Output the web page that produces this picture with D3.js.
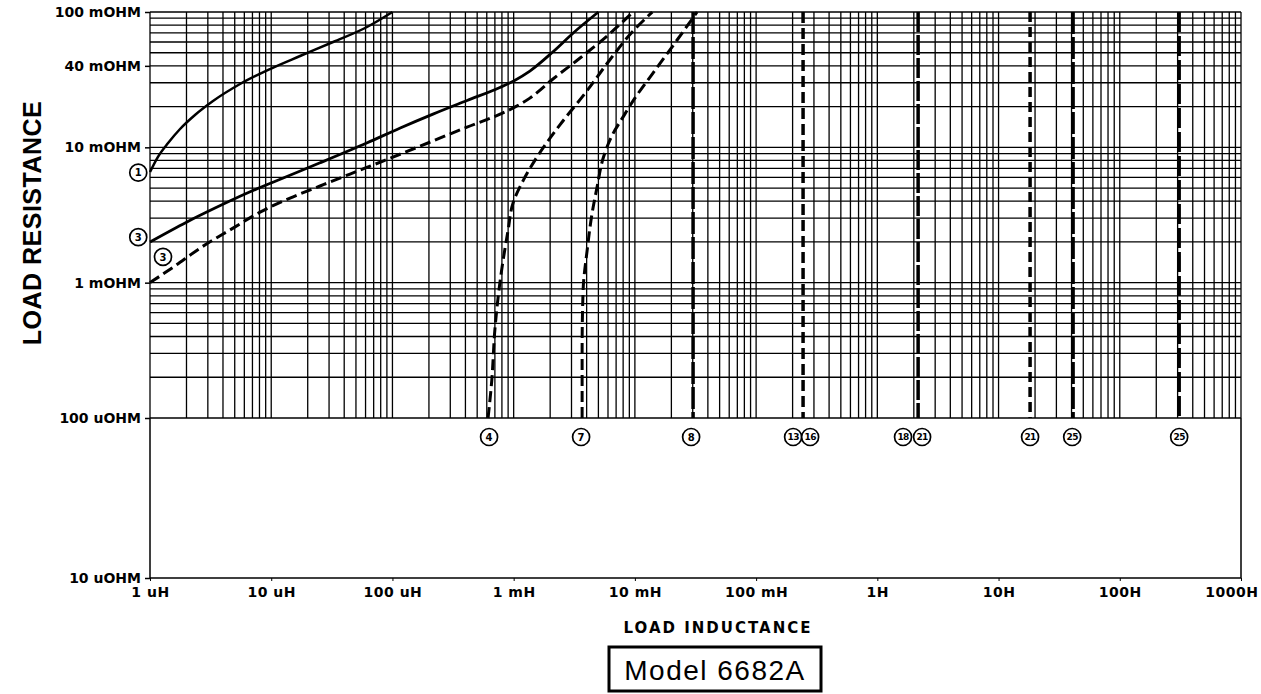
<!DOCTYPE html>
<html>
<head>
<meta charset="utf-8">
<script src="https://cdn.jsdelivr.net/npm/d3@7"></script>
<style>
  body { margin: 0; background: #fff; }
  svg text { fill: #000; }
  .tick-lbl { font-family: "DejaVu Sans", sans-serif; font-weight: bold; font-size: 14px; }
</style>
</head>
<body>
<div id="chart"></div>
<script>
// ---- data (L in henry, R in ohm) ----
const xTickVals = [1e-6, 1e-5, 1e-4, 1e-3, 1e-2, 0.1, 1, 10, 100, 1000];
const xTickText = ["1 uH", "10 uH", "100 uH", "1 mH", "10 mH", "100 mH", "1H", "10H", "100H", "1000H"];
const yTickVals = [0.1, 0.04, 0.01, 0.001, 1e-4, 1e-5];
const yTickText = ["100 mOHM", "40 mOHM", "10 mOHM", "1 mOHM", "100 uOHM", "10 uOHM"];

const curve1 = [[1e-6,6.57e-3],[1.16e-6,8.48e-3],[1.41e-6,0.01076],[1.77e-6,0.01366],[2.35e-6,0.01733],[3.31e-6,0.02198],[5.53e-6,0.02936],[9.78e-6,0.03791],[1.73e-5,0.0473],[3.24e-5,0.060],[6.17e-5,0.07745],[1.0e-4,0.1]];
const curve3 = [[1e-6,2.0e-3],[2.0e-6,2.8e-3],[3.44e-6,3.56e-3],[6.08e-6,4.52e-3],[1.12e-5,5.69e-3],[2.5e-5,7.65e-3],[6.2e-5,0.0108],[1.16e-4,0.0139],[2.16e-4,0.0176],[4.13e-4,0.0222],[7.7e-4,0.0277],[1.01e-3,0.0311],[1.36e-3,0.0366],[2.1e-3,0.0506],[3.1e-3,0.070],[5.0e-3,0.1]];
const curve3d = [[1e-6,1.0e-3],[1.55e-6,1.3e-3],[2.59e-6,1.8e-3],[4.84e-6,2.53e-3],[8.09e-6,3.32e-3],[1.43e-5,4.22e-3],[2.53e-5,5.18e-3],[4.47e-5,6.35e-3],[8.36e-5,7.92e-3],[1.69e-4,0.0102],[4.12e-4,0.0141],[7.73e-4,0.0176],[1.03e-3,0.0199],[1.36e-3,0.0231],[2.11e-3,0.032],[3.53e-3,0.0457],[5.9e-3,0.0665],[9.66e-3,0.1]];
const curve4 = [[6.15e-4,1e-4],[6.6e-4,1.9e-4],[7.0e-4,4.5e-4],[7.7e-4,1.0e-3],[9.0e-4,2.45e-3],[9.9e-4,3.9e-3],[1.2e-3,5.7e-3],[1.56e-3,8.5e-3],[2.4e-3,0.0146],[3.9e-3,0.0252],[6.2e-3,0.0442],[9.5e-3,0.0711],[1.39e-2,0.1]];
const curve7 = [[3.67e-3,1e-4],[3.67e-3,3.2e-4],[3.74e-3,8.8e-4],[4.04e-3,1.74e-3],[4.44e-3,3.27e-3],[4.88e-3,5.1e-3],[5.47e-3,8.3e-3],[6.5e-3,0.0123],[8.0e-3,0.0168],[1.0e-2,0.0231],[1.41e-2,0.0354],[2.23e-2,0.0621],[3.26e-2,0.1]];

// vertical limit lines (inductance only)
const limitL = [0.0302, 0.244, 2.17, 18.2, 41.2, 309];

// circled curve numbers
const tagText = ["4", "7", "8", "13", "16", "18", "21", "21", "25", "25"];
const tagL = [6.27e-4, 3.6e-3, 0.0291, 0.202, 0.279, 1.63, 2.34, 18.2, 40.5, 309];
const sideTagText = ["1", "3", "3"];
const sideTagL = [0.8e-6, 0.8e-6, 1.28e-6];
const sideTagR = [6.5e-3, 2.17e-3, 1.55e-3];

// ---- layout ----
const W = 1261, H = 694;
const m = { left: 150, right: 1241, top: 12, grid: 418, bottom: 578 };

const svg = d3.select("#chart").append("svg").attr("width", W).attr("height", H);

const x = d3.scaleLog().domain([1e-6, 1000]).range([m.left, m.right]);
// bottom decade of the original sheet is drawn a bit taller
const y = d3.scaleLog().domain([1e-5, 1e-4, 0.1]).range([m.bottom, m.grid, m.top]);

// grid values 1..9 per decade
const gridX = [];
for (let e = -6; e <= 2; e++) for (let k = 1; k <= 9; k++) gridX.push(k * Math.pow(10, e));
gridX.push(1000);
const gridY = [];
for (let e = -4; e <= -2; e++) for (let k = 1; k <= 9; k++) gridY.push(k * Math.pow(10, e));
gridY.push(0.1);

const grid = svg.append("g").attr("stroke", "#000").attr("stroke-width", 1.3);
grid.selectAll("line.v").data(gridX).join("line").attr("class", "v")
  .attr("x1", d => x(d)).attr("x2", d => x(d))
  .attr("y1", y(0.1)).attr("y2", y(1e-4));
grid.selectAll("line.h").data(gridY).join("line").attr("class", "h")
  .attr("x1", m.left).attr("x2", m.right)
  .attr("y1", d => y(d)).attr("y2", d => y(d));

// frame of the lower empty part
svg.append("path")
  .attr("d", `M${m.left},${y(1e-4)}V${m.bottom}H${m.right}V${y(1e-4)}`)
  .attr("fill", "none").attr("stroke", "#000").attr("stroke-width", 1.5);

// axes
const xAxis = d3.axisBottom(x).tickValues(xTickVals)
  .tickFormat((d, i) => xTickText[i]).tickSizeInner(3).tickSizeOuter(0).tickPadding(6);
const gx = svg.append("g").attr("transform", `translate(0,${m.bottom})`).call(xAxis);
gx.select(".domain").remove();
gx.selectAll("text").attr("class", "tick-lbl").style("letter-spacing", "0.5px");
// last label would run off the page, pull it in like the original
gx.selectAll(".tick:last-of-type text").attr("text-anchor", "end").attr("dx", 17);

const yAxis = d3.axisLeft(y).tickValues(yTickVals)
  .tickFormat((d, i) => yTickText[i]).tickSizeInner(5).tickSizeOuter(0).tickPadding(4);
const gy = svg.append("g").attr("transform", `translate(${m.left},0)`).call(yAxis);
gy.select(".domain").remove();
gy.selectAll("line").attr("stroke-width", 1.5);
gy.selectAll("text").attr("class", "tick-lbl");

// curves
const lineX = d3.line().x(d => x(d[0])).y(d => y(d[1])).curve(d3.curveMonotoneX);
const lineY = d3.line().x(d => x(d[0])).y(d => y(d[1])).curve(d3.curveMonotoneY);
const drawCurve = (data, gen, dash, w) => svg.append("path").datum(data)
  .attr("fill", "none").attr("stroke", "#000").attr("stroke-width", w)
  .attr("stroke-dasharray", dash).attr("stroke-linecap", "butt").attr("d", gen);

drawCurve(curve1, lineX, null, 2.5);
drawCurve(curve3, lineX, null, 2.8);
drawCurve(curve3d, lineX, "11,5", 3);
drawCurve(curve4, lineY, "11,5", 3);
drawCurve(curve7, lineY, "11,5", 3);

// vertical limit lines
const limitDash = ["22,3", "11,5", "20,3", "10,5", "22,3", "20,4"];
svg.selectAll("line.limit").data(limitL).join("line").attr("class", "limit")
  .attr("x1", d => x(d)).attr("x2", d => x(d))
  .attr("y1", y(0.1)).attr("y2", y(1e-4))
  .attr("stroke", "#000").attr("stroke-width", 3.5)
  .attr("stroke-dasharray", (d, i) => limitDash[i]);

// circled tags
const drawTag = (cx, cy, t) => {
  const g = svg.append("g").attr("transform", `translate(${cx},${cy})`);
  g.append("circle").attr("r", 8.5).attr("fill", "#fff").attr("stroke", "#000").attr("stroke-width", 1.7);
  g.append("text").attr("text-anchor", "middle").attr("dy", "0.36em")
    .style("font-family", "'DejaVu Sans', sans-serif").style("font-weight", "bold")
    .style("font-size", t.length > 1 ? "9px" : "10px")
    .style("letter-spacing", t.length > 1 ? "-0.6px" : "0")
    .text(t);
};
tagL.forEach((d, i) => drawTag(x(d), y(1e-4) + 19, tagText[i]));
sideTagL.forEach((d, i) => drawTag(x(d), y(sideTagR[i]), sideTagText[i]));

// titles
svg.append("text")
  .attr("transform", "translate(32,223) rotate(-90)")
  .attr("text-anchor", "middle").attr("dy", "0.36em")
  .style("font-family", "'Liberation Sans', Arial, sans-serif").style("font-weight", "bold")
  .style("font-size", "25px").style("letter-spacing", "0.5px")
  .text("LOAD RESISTANCE");

svg.append("text")
  .attr("x", 718).attr("y", 628).attr("text-anchor", "middle").attr("dy", "0.36em")
  .style("font-family", "'DejaVu Sans', sans-serif").style("font-weight", "bold")
  .style("font-size", "15px").style("letter-spacing", "2px")
  .text("LOAD INDUCTANCE");

svg.append("rect").attr("x", 609).attr("y", 647).attr("width", 212).attr("height", 44)
  .attr("fill", "#fff").attr("stroke", "#000").attr("stroke-width", 3);
svg.append("text")
  .attr("x", 715).attr("y", 670).attr("text-anchor", "middle").attr("dy", "0.36em")
  .style("font-family", "'Liberation Sans', Arial, sans-serif")
  .style("font-size", "28px").style("letter-spacing", "1.5px")
  .text("Model 6682A");
</script>
</body>
</html>
